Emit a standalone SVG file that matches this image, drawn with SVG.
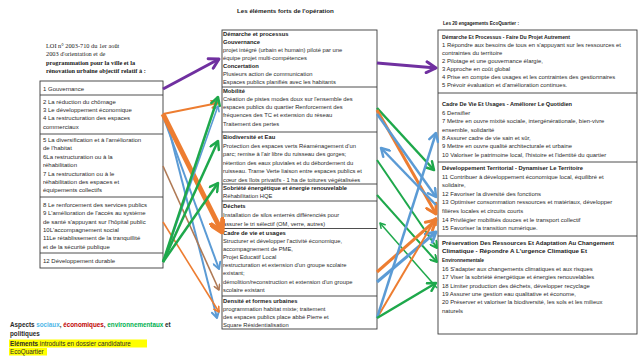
<svg xmlns="http://www.w3.org/2000/svg" width="639" height="356" viewBox="0 0 639 356">
<style>
text{font-family:"Liberation Sans",Arial,sans-serif;fill:#2a2a2a}
.b{font-size:6px}
.m{font-size:5.8px}
.r{font-size:5.9px}
.h{font-weight:bold;fill:#1a1a1a}
.ser{font-family:"Liberation Serif","Times New Roman",serif;font-size:6.3px;fill:#1a1a1a}
.title{font-weight:bold;font-size:6.2px;fill:#1a1a1a}
.box{fill:#fff;stroke:#3a3a3a;stroke-width:0.9}
.div{stroke:#3a3a3a;stroke-width:0.9}
.c{fill:none;stroke-linecap:butt}
.pu{stroke:#7030A0}.or{stroke:#ED7D31}.gr{stroke:#1EA84B}.bl{stroke:#5B9BD5}.br{stroke:#B07A55}
.leg{font-size:6.3px;font-weight:bold}
</style>
<defs>
<marker id="mpu" viewBox="0 0 10 10" refX="8.5" refY="5" markerWidth="4.5" markerHeight="4.5" markerUnits="strokeWidth" orient="auto"><path d="M1.5,1 L8.5,5 L1.5,9" fill="none" stroke="#7030A0" stroke-width="2.2" stroke-linecap="round" stroke-linejoin="round"/></marker>
<marker id="mor" viewBox="0 0 10 10" refX="8.5" refY="5" markerWidth="4.5" markerHeight="4.5" markerUnits="strokeWidth" orient="auto"><path d="M1.5,1 L8.5,5 L1.5,9" fill="none" stroke="#ED7D31" stroke-width="2.2" stroke-linecap="round" stroke-linejoin="round"/></marker>
<marker id="morb" viewBox="0 0 10 10" refX="8.5" refY="5" markerWidth="3.2" markerHeight="3.2" markerUnits="strokeWidth" orient="auto"><path d="M1.5,1 L8.5,5 L1.5,9" fill="none" stroke="#ED7D31" stroke-width="3.1" stroke-linecap="round" stroke-linejoin="round"/></marker>
<marker id="mgr" viewBox="0 0 10 10" refX="8.5" refY="5" markerWidth="4.5" markerHeight="4.5" markerUnits="strokeWidth" orient="auto"><path d="M1.5,1 L8.5,5 L1.5,9" fill="none" stroke="#1EA84B" stroke-width="2.2" stroke-linecap="round" stroke-linejoin="round"/></marker>
<marker id="mbl" viewBox="0 0 10 10" refX="8.5" refY="5" markerWidth="4.5" markerHeight="4.5" markerUnits="strokeWidth" orient="auto"><path d="M1.5,1 L8.5,5 L1.5,9" fill="none" stroke="#5B9BD5" stroke-width="2.2" stroke-linecap="round" stroke-linejoin="round"/></marker>
<marker id="mbr" viewBox="0 0 10 10" refX="8.5" refY="5" markerWidth="4.5" markerHeight="4.5" markerUnits="strokeWidth" orient="auto"><path d="M1.5,1 L8.5,5 L1.5,9" fill="none" stroke="#B07A55" stroke-width="2.2" stroke-linecap="round" stroke-linejoin="round"/></marker>
</defs>
<rect width="639" height="356" fill="#fff"/>

<!-- Titles -->
<g id="title-loi">
<text class="ser" x="46" y="48">LOI n° 2003-710 du 1er août</text>
<text class="ser" x="46" y="56">2003 d'orientation  et de</text>
<text class="ser" x="46" y="65" font-weight="bold">programmation pour la ville et la</text>
<text class="ser" x="46" y="73" font-weight="bold">rénovation urbaine objectif relatif à :</text>
</g>
<g id="title-elements"><text class="title" x="237" y="13">Les éléments forts de l'opération</text></g>
<g id="title-engagements"><text class="title" x="443" y="25" font-size="6" textLength="76" lengthAdjust="spacingAndGlyphs">Les 20 engagements EcoQuartier :</text></g>

<!-- Left column -->
<g id="node-loi-box"><rect class="box" x="40" y="81" width="123" height="187"/></g>
<g id="node-l1"><text class="b" x="43" y="91">1 Gouvernance</text></g>
<line class="div" x1="40" y1="95" x2="163" y2="95"/>
<g id="node-l2">
<text class="b" x="43" y="104">2 La réduction du chômage</text>
<text class="b" x="43" y="112">3 Le développement économique</text>
<text class="b" x="43" y="120">4 La restructuration des espaces</text>
<text class="b" x="43" y="129">commerciaux</text>
</g>
<line class="div" x1="40" y1="134" x2="163" y2="134"/>
<g id="node-l3">
<text class="b" x="43" y="142">5 La diversification et à l'amélioration</text>
<text class="b" x="43" y="150">de l'habitat</text>
<text class="b" x="43" y="159">6La restructuration ou à la</text>
<text class="b" x="43" y="167">réhabilitation</text>
<text class="b" x="43" y="176">7 La restructuration ou à le</text>
<text class="b" x="43" y="184">réhabilitation des espaces et</text>
<text class="b" x="43" y="192">équipements collectifs</text>
</g>
<line class="div" x1="40" y1="197" x2="163" y2="197"/>
<g id="node-l4">
<text class="b" x="43" y="207">8 Le renforcement des services publics</text>
<text class="b" x="43" y="215">9 L'amélioration de l'accès au système</text>
<text class="b" x="43" y="224">de santé s'appuyant sur l'hôpital public</text>
<text class="b" x="43" y="232">10L'accompagnement social</text>
<text class="b" x="43" y="240">11Le rétablissement de la tranquillité</text>
<text class="b" x="43" y="249">et de la sécurité publique</text>
</g>
<line class="div" x1="40" y1="253" x2="163" y2="253"/>
<g id="node-l5"><text class="b" x="43" y="263">12 Développement durable</text></g>

<!-- Middle column -->
<g id="node-mid-box"><rect class="box" x="222" y="30" width="155" height="299"/></g>
<g id="node-m1">
<text class="m h" x="223" y="36">Démarche et processus</text>
<text class="m h" x="223" y="44">Gouvernance</text>
<text class="m" x="223" y="52"> projet intégré (urbain et humain) piloté par une</text>
<text class="m" x="223" y="60">équipe projet multi-compétences</text>
<text class="m h" x="223" y="68">Concertation</text>
<text class="m" x="223" y="76">Plusieurs action de communication</text>
<text class="m" x="223" y="84">Espaces publics planifiés avec les habitants</text>
</g>
<line class="div" x1="222" y1="87" x2="377" y2="87"/>
<g id="node-m2">
<text class="m h" x="223" y="93">Mobilité</text>
<text class="m" x="223" y="101">Création de pistes modes doux sur l'ensemble des</text>
<text class="m" x="223" y="109">espaces publics du quartier Renforcement des</text>
<text class="m" x="223" y="117">fréquences des TC et extension du réseau</text>
<text class="m" x="223" y="126">Traitement des pertes</text>
</g>
<line class="div" x1="222" y1="132" x2="377" y2="132"/>
<g id="node-m3">
<text class="m h" x="223" y="139">Biodiversité  et  Eau</text>
<text class="m" x="223" y="148">Protection des espaces verts Réaménagement d'un</text>
<text class="m" x="223" y="156">parc; remise à l'air libre du ruisseau des gorges;</text>
<text class="m" x="223" y="165">rétention des eaux pluviales et du débordement du</text>
<text class="m" x="223" y="173">ruisseau. Trame Verte liaison entre espaces publics et</text>
<text class="m" x="223" y="182">cœur des îlots privatifs - 1 ha de toitures végétalisées</text>
</g>
<line class="div" x1="222" y1="184" x2="377" y2="184"/>
<g id="node-m4">
<text class="m h" x="223" y="190">Sobriété énergétique et énergie renouvelable</text>
<text class="m" x="223" y="198">Réhabilitation HQE</text>
</g>
<line class="div" x1="222" y1="201" x2="377" y2="201"/>
<g id="node-m5">
<text class="m h" x="223" y="208">Déchets</text>
<text class="m" x="223" y="217">Installation de silos enterrés différenciés pour</text>
<text class="m" x="223" y="226">assurer le tri sélectif (OM, verre, autres)</text>
</g>
<line class="div" x1="222" y1="228.5" x2="377" y2="228.5"/>
<g id="node-m6">
<text class="m h" x="223" y="235">Cadre de vie et usages</text>
<text class="m" x="223" y="243">Structurer et développer l'activité économique,</text>
<text class="m" x="223" y="251">accompagnement de PME,</text>
<text class="m" x="223" y="259">Projet Educatif Local</text>
<text class="m" x="223" y="267">restructuration et extension d'un groupe scolaire</text>
<text class="m" x="223" y="275">existant;</text>
<text class="m" x="223" y="284">démolition/reconstruction et extension d'un groupe</text>
<text class="m" x="223" y="292">scolaire existant</text>
</g>
<line class="div" x1="222" y1="296" x2="377" y2="296"/>
<g id="node-m7">
<text class="m h" x="223" y="303">Densité et formes urbaines</text>
<text class="m" x="223" y="311">programmation habitat  mixte;  traitement</text>
<text class="m" x="223" y="319">des espaces publics place abbé Pierre et</text>
<text class="m" x="223" y="327">Square Résidentialisation</text>
</g>

<!-- Right column -->
<g id="node-right-box"><rect class="box" x="438" y="30" width="199" height="304"/></g>
<g id="node-r1">
<text class="r h" x="442" y="39" textLength="128" lengthAdjust="spacingAndGlyphs">Démarche Et Processus - Faire Du Projet Autrement</text>
<text class="r" x="442" y="47">1 Répondre aux besoins de tous en s'appuyant sur les ressources et</text>
<text class="r" x="442" y="55">contraintes du territoire</text>
<text class="r" x="442" y="63">2 Pilotage et une gouvernance élargie,</text>
<text class="r" x="442" y="71">3 Approche en coût global</text>
<text class="r" x="442" y="79">4 Prise en compte  des usages et les contraintes des gestionnaires</text>
<text class="r" x="442" y="87">5 Prévoir évaluation et d'amélioration continues.</text>
</g>
<line class="div" x1="438" y1="93" x2="637" y2="93"/>
<g id="node-r2">
<text class="r h" x="442" y="106" textLength="130" lengthAdjust="spacingAndGlyphs">Cadre De Vie Et Usages - Améliorer Le Quotidien</text>
<text class="r" x="442" y="115">6 Densifier</text>
<text class="r" x="442" y="123">7 Mettre en ouvre mixité sociale, intergénérationale, bien-vivre</text>
<text class="r" x="442" y="132">ensemble, solidarité</text>
<text class="r" x="442" y="140">8 Assurer cadre de vie sain et sûr,</text>
<text class="r" x="442" y="148">9 Mettre en ouvre qualité architecturale et urbaine</text>
<text class="r" x="442" y="157">10 Valoriser le patrimoine local, l'histoire et l'identité du quartier</text>
</g>
<line class="div" x1="438" y1="162" x2="637" y2="162"/>
<g id="node-r3">
<text class="r h" x="442" y="170" textLength="141" lengthAdjust="spacingAndGlyphs">Développement Territorial - Dynamiser Le Territoire</text>
<text class="r" x="442" y="179">11 Contribuer à  développement économique local, équilibré et</text>
<text class="r" x="442" y="187">solidaire,</text>
<text class="r" x="442" y="196">12 Favoriser la diversité des fonctions</text>
<text class="r" x="442" y="204">13 Optimiser consommation ressources et matériaux, développer</text>
<text class="r" x="442" y="213">filières locales et circuits courts</text>
<text class="r" x="442" y="222">14 Privilégier mobilités douces et le transport collectif</text>
<text class="r" x="442" y="230">15 Favoriser la transition numérique.</text>
</g>
<line class="div" x1="438" y1="236" x2="637" y2="236"/>
<g id="node-r4">
<text class="r h" x="442" y="245" textLength="172" lengthAdjust="spacingAndGlyphs">Préservation Des Ressources Et Adaptation  Au Changement</text>
<text class="r h" x="442" y="253" textLength="145" lengthAdjust="spacingAndGlyphs">Climatique - Répondre  A L'urgence Climatique Et</text>
<text class="r h" x="442" y="262" textLength="42" lengthAdjust="spacingAndGlyphs">Environnementale</text>
<text class="r" x="442" y="271">16 S'adapter aux changements climatiques et aux risques</text>
<text class="r" x="442" y="279">17 Viser  la sobriété énergétique et  énergies renouvelables</text>
<text class="r" x="442" y="288">18 Limiter production des déchets, développer recyclage</text>
<text class="r" x="442" y="296">19 Assurer une gestion eau qualitative et économe,</text>
<text class="r" x="442" y="304">20 Préserver et valoriser la biodiversité, les sols et les milieux</text>
<text class="r" x="442" y="313">naturels</text>
</g>

<!-- Connectors -->
<g id="connectors" class="c">
<line class="c pu" x1="163" y1="89" x2="219" y2="59" stroke-width="3" marker-end="url(#mpu)"/>
<line class="c or" x1="163" y1="114" x2="218" y2="103" stroke-width="2" marker-end="url(#mor)"/>
<line class="c bl" x1="163" y1="116" x2="219" y2="269" stroke-width="2" marker-end="url(#mbl)"/>
<line class="c bl" x1="166" y1="118" x2="217" y2="318" stroke-width="2" marker-end="url(#mbl)"/>
<line class="c br" x1="163" y1="166" x2="219" y2="290" stroke-width="1.6" marker-end="url(#mbr)"/>
<line class="c or" x1="163" y1="222" x2="219" y2="312" stroke-width="1.6" marker-end="url(#mor)"/>
<line class="c or" x1="163" y1="114" x2="222" y2="232" stroke-width="5" marker-end="url(#morb)"/>
<line class="c bl" x1="163" y1="262" x2="218" y2="106" stroke-width="1.6" marker-end="url(#mbl)"/>
<line class="c gr" x1="163" y1="262" x2="218" y2="97" stroke-width="2.5" marker-end="url(#mgr)"/>
<line class="c gr" x1="163" y1="262" x2="218" y2="141" stroke-width="2.5" marker-end="url(#mgr)"/>
<line class="c gr" x1="163" y1="262" x2="218" y2="183" stroke-width="2.5" marker-end="url(#mgr)"/>

<line class="c pu" x1="377" y1="63" x2="436" y2="68" stroke-width="3" marker-end="url(#mpu)"/>
<line class="c gr" x1="377" y1="108" x2="434" y2="170" stroke-width="2.5" marker-end="url(#mgr)"/>
<line class="c or" x1="377" y1="110" x2="436" y2="214" stroke-width="3" marker-end="url(#mor)"/>
<line class="c bl" x1="377" y1="114" x2="436" y2="197" stroke-width="2.5" marker-end="url(#mbl)"/>
<line class="c bl" x1="436" y1="205" x2="381" y2="148" stroke-width="2.5" marker-end="url(#mbl)"/>
<line class="c gr" x1="377" y1="160" x2="437" y2="248" stroke-width="2" marker-end="url(#mgr)"/>
<line class="c gr" x1="377" y1="195" x2="437" y2="262" stroke-width="2" marker-end="url(#mgr)"/>
<line class="c gr" x1="437" y1="288" x2="380" y2="223" stroke-width="1.5" marker-end="url(#mgr)"/>
<line class="c or" x1="377" y1="272" x2="436" y2="220" stroke-width="3" marker-end="url(#mor)"/>
<line class="c bl" x1="377" y1="282" x2="436" y2="232" stroke-width="3" marker-end="url(#mbl)"/>
<line class="c or" x1="377" y1="318" x2="436" y2="218" stroke-width="2" marker-end="url(#mor)"/>
<line class="c bl" x1="377" y1="318" x2="436" y2="133" stroke-width="2.5" marker-end="url(#mbl)"/>
<line class="c gr" x1="377" y1="318" x2="436" y2="283" stroke-width="2.5" marker-end="url(#mgr)"/>
</g>

<!-- Legend -->
<g id="legend">
<text class="leg" x="10" y="327"><tspan fill="#2a2a2a">Aspects </tspan><tspan fill="#4FB8E8">sociaux</tspan><tspan fill="#2a2a2a">, </tspan><tspan fill="#C00000">économiques</tspan><tspan fill="#2a2a2a">, </tspan><tspan fill="#00B050">environnementaux</tspan><tspan fill="#2a2a2a"> et</tspan></text>
<text class="leg" x="10" y="336" fill="#7030A0">politiques</text>
<rect x="9" y="339.5" width="138" height="8" fill="#FFFF00"/>
<text x="10" y="345.5" font-size="6.3"><tspan font-weight="bold">Eléments</tspan> introduits en dossier candidature</text>
<rect x="9" y="348" width="38" height="7.5" fill="#FFFF00"/>
<text x="10" y="354" font-size="6.3">EcoQuartier</text>
</g>
</svg>
